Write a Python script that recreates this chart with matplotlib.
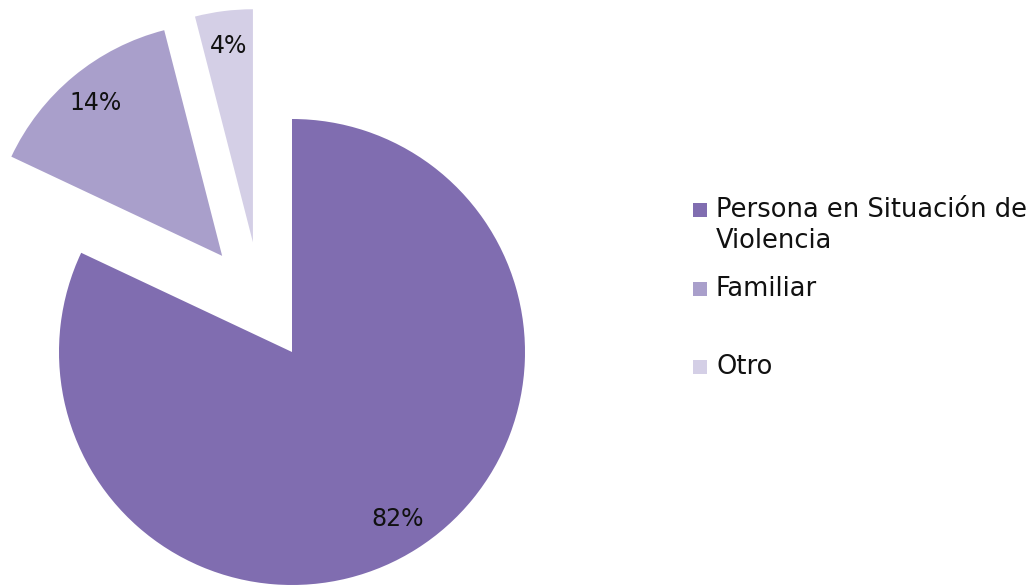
import numpy as np
import matplotlib.pyplot as plt
from matplotlib.patches import Rectangle

# datos del gráfico
categorias = ["Persona en Situación de\nViolencia", "Familiar", "Otro"]
porcentajes = [82, 14, 4]
colores = ["#806db0", "#a99fcb", "#d4cfe6"]

# desplazamiento de cada porción (distancia en radios, ángulo en grados)
separacion = [(0.0, 0.0), (0.51, 126.0), (0.50, 109.6)]

plt.rcParams['font.family'] = ['DejaVu Sans']

W, H = 1032, 585
cx, cy, R = 292, 352, 233  # centro y radio en píxeles

fig = plt.figure(figsize=(W / 100, H / 100), dpi=100)
ax = fig.add_axes([0, 0, 1, 1])

wedges, _, autotexts = ax.pie(
    porcentajes, colors=colores, startangle=90, counterclock=False,
    autopct='%1.0f%%', pctdistance=0.85, radius=1.0,
    textprops={'fontsize': 17, 'color': '#111111'},
    wedgeprops={'linewidth': 0},
)

for w, t, (d, ang) in zip(wedges, autotexts, separacion):
    dx = d * np.cos(np.radians(ang))
    dy = d * np.sin(np.radians(ang))
    w.set_center((dx, dy))
    x, y = t.get_position()
    t.set_position((x + dx, y + dy))

ax.set_aspect('auto')
ax.set_xlim(-cx / R, (W - cx) / R)
ax.set_ylim(-(H - cy) / R, cy / R)
ax.axis('off')

# leyenda a mano (posiciones en píxeles, origen arriba a la izquierda)
fila_y = [210, 289, 367]
interlinea = 31
lado = 14
for w, etiqueta, y0 in zip(wedges, categorias, fila_y):
    fig.patches.append(Rectangle((693 / W, 1 - (y0 + lado / 2) / H),
                                 lado / W, lado / H,
                                 transform=fig.transFigure,
                                 facecolor=w.get_facecolor(), linewidth=0))
    for i, linea in enumerate(etiqueta.split("\n")):
        fig.text(716 / W, 1 - (y0 + i * interlinea) / H, linea,
                 ha='left', va='center', fontsize=18.5, color='#111111')

fig.savefig("out.png", dpi=100)
